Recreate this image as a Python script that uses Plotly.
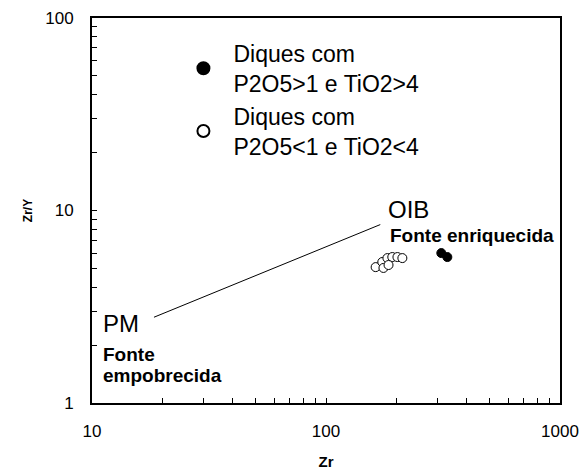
import plotly.graph_objects as go

# Data
open_zr = [163, 174, 183, 192, 202, 212, 176, 185]
open_zry = [5.08, 5.40, 5.66, 5.73, 5.73, 5.66, 5.03, 5.21]
filled_zr = [311, 330]
filled_zry = [6.01, 5.73]
trend_zr = [18.4, 170.6]
trend_zry = [2.79, 8.45]

x_tick_vals = [10, 100, 1000]
x_tick_text = ["10", "100", "1000"]
y_tick_vals = [1, 10, 100]
y_tick_text = ["1", "10", "100"]

FONT = "Liberation Sans, Arial, sans-serif"

fig = go.Figure()

fig.add_trace(go.Scatter(
    x=filled_zr, y=filled_zry, mode="markers",
    name="Diques com<br>P2O5>1 e TiO2>4",
    marker=dict(symbol="circle", size=9, color="black",
                line=dict(color="black", width=1))))

fig.add_trace(go.Scatter(
    x=open_zr, y=open_zry, mode="markers",
    name="Diques com<br>P2O5<1 e TiO2<4",
    marker=dict(symbol="circle", size=9, color="white",
                line=dict(color="black", width=1))))

# PM -> OIB line, drawn against the overlay y axis (same log range)
fig.add_trace(go.Scatter(
    x=trend_zr, y=trend_zry, mode="lines", xaxis="x", yaxis="y2",
    line=dict(color="black", width=1), showlegend=False, hoverinfo="skip"))

minor_x = [v * m for m in (10, 100) for v in range(2, 10)]
minor_y = [v * m for m in (1, 10) for v in range(2, 10)]

fig.update_layout(
    width=584, height=475,
    margin=dict(l=92, r=24, t=18, b=72),
    paper_bgcolor="white", plot_bgcolor="white",
    showlegend=True,
    xaxis=dict(
        type="log", range=[1, 3],
        tickvals=x_tick_vals, ticktext=x_tick_text,
        ticks="inside", ticklen=5, tickwidth=1, tickcolor="black",
        minor=dict(tickvals=minor_x, ticks="inside", ticklen=5, tickwidth=1, tickcolor="black"),
        showline=True, linecolor="black", linewidth=2, mirror=True,
        showgrid=False, zeroline=False, automargin=False,
        ticklabelstandoff=12,
        tickfont=dict(family=FONT, size=17, color="black"),
        title=dict(text="<b>Zr</b>", font=dict(family=FONT, size=15, color="black"), standoff=16),
    ),
    yaxis=dict(
        type="log", range=[0, 2],
        tickvals=y_tick_vals, showticklabels=False,
        ticks="inside", ticklen=5, tickwidth=1, tickcolor="black",
        minor=dict(tickvals=minor_y, ticks="inside", ticklen=5, tickwidth=1, tickcolor="black"),
        showline=True, linecolor="black", linewidth=2, mirror=True,
        showgrid=False, zeroline=False, automargin=False,
    ),
    yaxis2=dict(
        type="log", range=[0, 2], overlaying="y", side="left", anchor="x",
        tickvals=y_tick_vals, ticktext=y_tick_text,
        ticks="outside", ticklen=14, tickcolor="rgba(0,0,0,0)",
        showline=False, showgrid=False, zeroline=False, automargin=False,
        tickfont=dict(family=FONT, size=17, color="black"),
        title=dict(text="<b>Zr/Y</b>", font=dict(family=FONT, size=12, color="black"), standoff=10),
    ),
    legend=dict(
        x=0.174, y=0.964, xanchor="left", yanchor="top",
        bgcolor="rgba(0,0,0,0)", itemsizing="constant", itemwidth=50,
        font=dict(family=FONT, size=23, color="black"),
        tracegroupgap=0,
    ),
)

def ann(text, x, y, size, bold=False):
    fig.add_annotation(
        text=f"<b>{text}</b>" if bold else text,
        xref="paper", yref="paper", x=x, y=y,
        xanchor="left", yanchor="middle", showarrow=False,
        font=dict(family=FONT, size=size, color="black"))

ann("PM", 0.019, 0.207, 24)
ann("Fonte", 0.019, 0.127, 19, bold=True)
ann("empobrecida", 0.019, 0.072, 19, bold=True)
ann("OIB", 0.629, 0.503, 24)
ann("Fonte enriquecida", 0.632, 0.435, 19, bold=True)

fig.write_html("out.html")
